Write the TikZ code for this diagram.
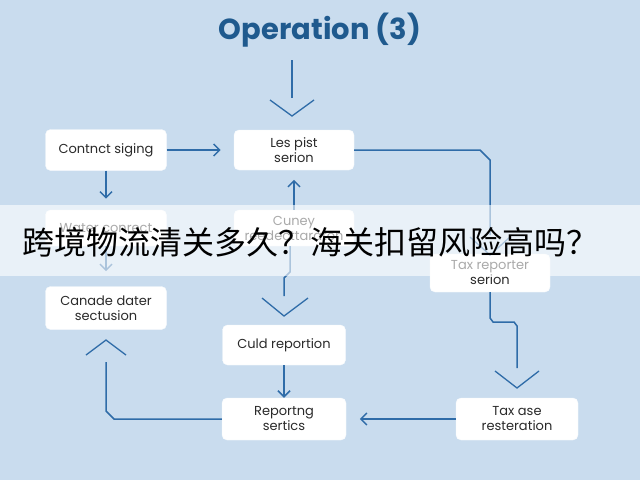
\documentclass[tikz,border=0pt]{standalone}
\usetikzlibrary{arrows.meta}
\usepackage{fontspec}
\setmainfont{Poppins}
\newfontfamily\cjk{Noto Sans CJK SC}
\definecolor{bg}{HTML}{C9DCEE}
\definecolor{ln}{HTML}{2F6CA8}
\definecolor{ttl}{HTML}{1F5A8E}
\definecolor{tx}{HTML}{2A2A2A}
\begin{document}
\begin{tikzpicture}[x=1pt,y=-1pt,
 box/.style={draw=white!85!bg,fill=white,rounded corners=5pt,inner sep=2pt,align=center,font=\fontsize{13}{15}\selectfont,text=tx},
 con/.style={draw=ln,line width=1.5pt},
 arr/.style={con,-{Straight Barb[length=6pt,width=12pt,line width=1.5pt]}},
 chev/.style={draw=ln,line width=1.3pt}]
\useasboundingbox (0,0) rectangle (640,480);
\fill[bg] (0,0) rectangle (640,480);
\node[font=\bfseries\fontsize{29}{34}\selectfont,text=ttl] (title) at (320,30) {Operation (3)};
\node[box,minimum width=121pt,minimum height=41pt] (a) at (106,150) {Contnct siging};
\node[box,minimum width=120pt,minimum height=40pt] (b) at (294,150) {Les pist\\serion};
\node[box,minimum width=121pt,minimum height=36pt] (c) at (106,228) {Water conrect};
\node[box,minimum width=120pt,minimum height=36pt] (d) at (294,228) {Cuney\\reedecttaraton};
\node[box,minimum width=120pt,minimum height=38pt] (e) at (490,273) {Tax reporter\\serion};
\node[box,minimum width=121pt,minimum height=43pt] (f) at (106,308) {Canade dater\\sectusion};
\node[box,minimum width=123pt,minimum height=40pt] (g) at (284,345) {Culd reportion};
\node[box,minimum width=124pt,minimum height=42pt] (h) at (284,419) {Reportng\\sertics};
\node[box,minimum width=122pt,minimum height=42pt] (i) at (517,419) {Tax ase\\resteration};
% chevron apex coordinates
\coordinate (t0) at (292,60); \coordinate (t1) at (292,116);
\draw[con] (t0) -- ++(0,38);
\draw[chev] (270,100) -- (t1) -- (314,100);
\draw[arr] (a.east) -- ++(54,0);
\draw[arr] (a.south) -- ++(0,28);
\draw[arr] (c.south) -- ++(0,25);
\draw[arr] (d.north) -- ++(0,-30);
\coordinate (e1) at (490,255);
\draw[con] (b.east) -- (480,150) -- (490,160) -- (490,235);
\draw[chev] (470,237) -- (e1) -- (510,237);
\coordinate (d1) at (284,316);
\draw[con] (290,246) -- (290,272) -- (284,278) -- (284,296);
\draw[chev] (262,298) -- (d1) -- (308,298);
\draw[arr] (g.south) -- (h.north);
\coordinate (i1) at (517,388);
\draw[con] (490,292) -- (490,318) -- (493,322) -- (514,322) -- (517,326) -- (517,368);
\draw[chev] (495,371) -- (i1) -- (539,371);
\draw[arr] (i.west) -- ++(-96,0);
\coordinate (f1) at (106,340);
\draw[con] (h.west) -- (114,419) -- (106,411) -- (106,362);
\draw[chev] (86,355) -- (f1) -- (126,355);
\fill[white,opacity=0.6] (0,205) rectangle (640,276);
\node[font=\cjk\fontsize{32}{36}\selectfont,text=black] (band) at (311,242) {跨境物流清关多久？海关扣留风险高吗？};
\end{tikzpicture}
\end{document}
